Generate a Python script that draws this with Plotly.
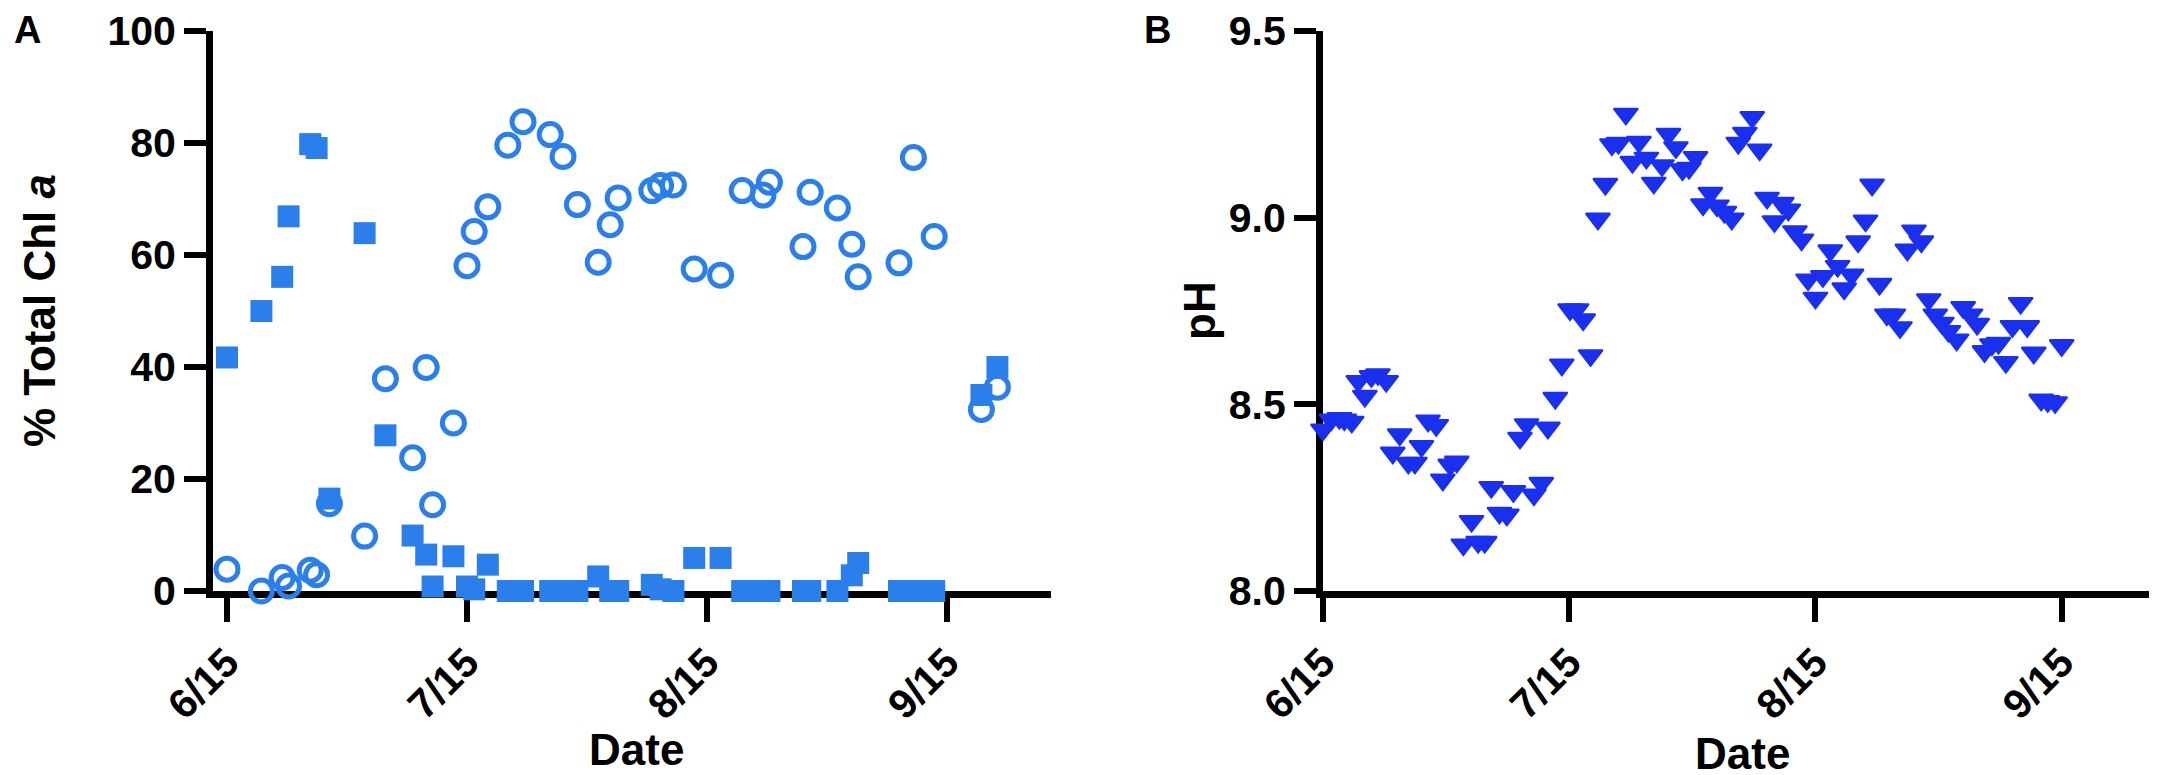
import plotly.graph_objects as go

# x values are days after 6/15 (ticks every 30 days, labelled by date)
tick_days = [0, 30, 60, 90]
tick_labels = ["6/15", "7/15", "8/15", "9/15"]

# Panel A: % total Chl a
days_a = [0, 4.3, 6.9, 7.7, 10.4, 11.2, 12.8, 17.2, 19.8, 23.2, 24.9, 25.7, 28.3, 30.0,
          30.9, 32.6, 35.1, 37.0, 40.4, 42.0, 43.8, 46.4, 47.9, 48.9, 53.1, 54.2, 55.8,
          58.4, 61.7, 64.4, 67.0, 67.8, 72.0, 72.9, 76.3, 78.1, 78.9, 84.0, 85.8, 88.4,
          94.3, 96.3]
chl_squares = [41.7, 50.0, 56.1, 66.9, 79.8, 79.1, 16.5, 63.9, 27.8, 9.9, 6.5, 0.8, 6.2, 0.8,
               0.3, 4.7, 0, 0, 0, 0, 0, 2.6, 0, 0, 1.1, 0.3, 0,
               5.9, 5.9, 0, 0, 0, 0, 0, 0, 2.8, 5.0, 0, 0, 0,
               35.0, 40.0]
chl_circles = [3.9, 0, 2.4, 0.9, 3.7, 2.9, 15.6, 9.8, 37.9, 23.8, 39.9, 15.4, 30.0, 58.1,
               64.2, 68.6, 79.6, 83.8, 81.5, 77.6, 69.0, 58.7, 65.4, 70.2, 71.5, 72.4, 72.5,
               57.5, 56.4, 71.5, 70.7, 73.0, 61.5, 71.2, 68.4, 61.9, 56.1, 58.6, 77.4, 63.3,
               32.4, 36.4]

# Panel B: pH
days_b = [0.0, 1.0, 2.0, 2.6, 3.5, 4.3, 5.1, 5.9, 6.7, 7.7, 8.5, 9.35, 10.4, 11.2, 12.0,
          12.8, 13.8, 14.6, 15.5, 16.3, 17.1, 18.1, 18.9, 19.7, 20.5, 21.5, 22.4, 23.2,
          24.0, 24.8, 25.7, 26.6, 27.4, 28.3, 29.1, 30.1, 30.9, 31.7, 32.6, 33.5, 34.4,
          35.2, 36.0, 36.9, 37.7, 38.5, 39.4, 40.3, 41.3, 42.1, 43.0, 43.8, 44.6, 45.4,
          46.3, 47.2, 48.0, 48.9, 49.8, 50.6, 51.4, 52.3, 53.2, 54.1, 55.0, 55.9, 56.7,
          57.5, 58.3, 59.1, 60.0, 60.9, 61.8, 62.7, 63.5, 64.4, 65.2, 66.1, 66.9, 67.8,
          68.7, 69.5, 70.3, 71.2, 72.0, 72.9, 73.8, 74.6, 75.4, 76.2, 77.2, 78.0, 78.9,
          79.7, 80.6, 81.5, 82.3, 83.2, 84.0, 85.0, 85.8, 86.6, 87.5, 88.3, 89.2, 90.0]
ph = [8.432, 8.459, 8.463, 8.459, 8.453, 8.562, 8.522, 8.575, 8.580, 8.562, 8.370, 8.419,
      8.343, 8.343, 8.388, 8.456, 8.444, 8.298, 8.338, 8.346, 8.124, 8.187, 8.131, 8.131,
      8.278, 8.209, 8.204, 8.267, 8.410, 8.446, 8.258, 8.289, 8.437, 8.517, 8.606, 8.754,
      8.754, 8.727, 8.631, 8.997, 9.090, 9.196, 9.200, 9.278, 9.149, 9.203, 9.160, 9.093,
      9.140, 9.224, 9.188, 9.129, 9.133, 9.162, 9.035, 9.066, 9.032, 9.015, 8.997, 9.200,
      9.227, 9.269, 9.182, 9.053, 8.990, 9.039, 9.021, 8.963, 8.941, 8.834, 8.785, 8.843,
      8.912, 8.870, 8.810, 8.847, 8.936, 8.992, 9.088, 8.822, 8.740, 8.740, 8.706, 8.914,
      8.965, 8.936, 8.781, 8.740, 8.718, 8.696, 8.673, 8.760, 8.740, 8.715, 8.642, 8.660,
      8.664, 8.613, 8.709, 8.771, 8.709, 8.638, 8.512, 8.508, 8.505, 8.658]

W, H = 2157, 775
FONT = "Liberation Sans, Arial, sans-serif"
light_blue = "#2a7fea"
dark_blue = "#1a30ee"

fig = go.Figure()

fig.add_trace(go.Scatter(
    x=days_a, y=chl_squares, mode="markers", cliponaxis=False,
    marker=dict(symbol="square", size=22, color=light_blue, line=dict(width=0)),
    xaxis="x", yaxis="y",
))
fig.add_trace(go.Scatter(
    x=days_a, y=chl_circles, mode="markers", cliponaxis=False,
    marker=dict(symbol="circle-open", size=22, color=light_blue, line=dict(width=5, color=light_blue)),
    xaxis="x", yaxis="y",
))
fig.add_trace(go.Scatter(
    x=days_b, y=ph, mode="markers", cliponaxis=False,
    marker=dict(symbol="triangle-down", size=21, color=dark_blue, line=dict(width=2, color=dark_blue)),
    xaxis="x2", yaxis="y2",
))

axis_style = dict(
    showline=True, linecolor="black", linewidth=7, ticks="outside", tickwidth=6,
    tickcolor="black", showgrid=False, zeroline=False, layer="below traces",
    automargin=False, tickfont=dict(family=FONT, size=41, color="black", weight="bold"),
)

y_dom = [(H - 583) / H, (H - 23) / H]

fig.update_layout(
    width=W, height=H,
    margin=dict(l=0, r=0, t=0, b=0),
    paper_bgcolor="white", plot_bgcolor="white",
    showlegend=False,
    xaxis=dict(axis_style, domain=[205 / W, 1043 / W], range=[-1.75, 103], ticklen=24,
               tickvals=tick_days, ticktext=tick_labels, tickangle=-45, anchor="y"),
    yaxis=dict(axis_style, domain=y_dom, range=[0, 100], ticklen=22,
               tickvals=[0, 20, 40, 60, 80, 100], anchor="x"),
    xaxis2=dict(axis_style, domain=[1315 / W, 2153 / W], range=[0, 102.1], ticklen=24,
                tickvals=tick_days, ticktext=tick_labels, tickangle=-45, anchor="y2"),
    yaxis2=dict(axis_style, domain=y_dom, range=[8.0, 9.5], ticklen=22,
                tickvals=[8.0, 8.5, 9.0, 9.5], tickformat=".1f", anchor="x2"),
)

title_font = dict(family=FONT, size=44, color="black", weight="bold")
label_font = dict(family=FONT, size=38, color="black", weight="bold")

annotations = [
    dict(text="A", x=19 / W, y=1 - 22 / H, font=label_font),
    dict(text="B", x=1149 / W, y=1 - 22 / H, font=label_font),
    dict(text="% Total Chl <i>a</i>", x=31 / W, y=1 - 303 / H, textangle=-90, font=title_font),
    dict(text="pH", x=1191 / W, y=1 - 303 / H, textangle=-90, font=title_font),
    dict(text="Date", x=628 / W, y=1 - 741 / H, font=title_font),
    dict(text="Date", x=1734 / W, y=1 - 745 / H, font=title_font),
]
for a in annotations:
    fig.add_annotation(xref="paper", yref="paper", xanchor="center", yanchor="middle",
                       showarrow=False, **a)

fig.write_html("out.html")
